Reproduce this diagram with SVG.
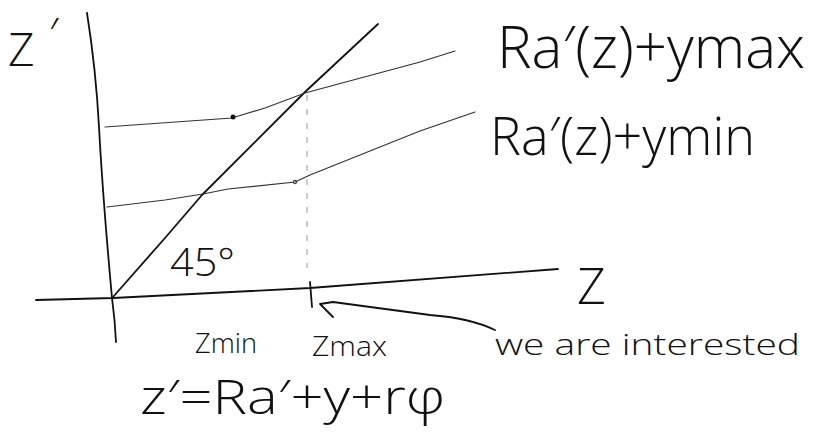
<svg xmlns="http://www.w3.org/2000/svg" width="815" height="432" viewBox="0 0 815 432">
<style>
.t{font-family:"Open Sans","Liberation Sans",sans-serif;font-weight:300;fill:#111}
.ax{fill:none;stroke:#111;stroke-width:1.8;stroke-linecap:round;stroke-linejoin:round}
.cv{fill:none;stroke:#333;stroke-width:1.2;stroke-linecap:round}
.ds{fill:none;stroke:#999;stroke-width:1;stroke-dasharray:6 8}
</style>
<rect width="815" height="432" fill="#fff"/>
<g id="connectors">
<path class="ax" d="M87,13 Q96,70 99,127 Q103,200 112,298 Q115,320 116,342"/>
<path class="ax" d="M36,300 L113,298 L310,288 L558,269"/>
<path class="ax" d="M113,297 L165,238 L202,195 L305,92 L378,24"/>
<path class="cv" d="M105,127 L232,118 L265,108 L305,93 L420,62 L455,51"/>
<circle cx="233" cy="117" r="2.5" fill="#111"/>
<path class="cv" d="M107,207 L165,200 L203,194 L228,189 L295,182 L310,175 L420,131 L475,112"/>
<circle cx="295" cy="182" r="1.8" fill="none" stroke="#333" stroke-width="1"/>
<path class="ds" d="M307,95 L307,268"/>
<path class="ax" d="M310,282 L312,307"/>
<path class="ax" d="M495,330 Q470,318 430,315 L333,302 M320,304 L333,302 M320,304 L333,317"/>
</g>
<g id="zprime"><text class="t" x="8" y="66" font-size="46">Z</text><text class="t" x="49" y="50" font-size="44">′</text></g>
<g id="ymax"><text class="t" x="497" y="68" font-size="58" textLength="308" lengthAdjust="spacingAndGlyphs">Ra′(z)+ymax</text></g>
<g id="ymin"><text class="t" x="490" y="155" font-size="54" textLength="265" lengthAdjust="spacingAndGlyphs">Ra′(z)+ymin</text></g>
<g id="angle"><text class="t" x="170" y="276" font-size="38" textLength="65" lengthAdjust="spacingAndGlyphs">45°</text></g>
<g id="zaxis"><text class="t" x="577" y="304" font-size="50">Z</text></g>
<g id="zmin"><text class="t" x="195" y="353" font-size="27" textLength="62" lengthAdjust="spacingAndGlyphs">Zmin</text></g>
<g id="zmax"><text class="t" x="312" y="356" font-size="28" textLength="75" lengthAdjust="spacingAndGlyphs">Zmax</text></g>
<g id="note"><text class="t" x="495" y="355" font-size="30" textLength="305" lengthAdjust="spacingAndGlyphs">we are interested</text></g>
<g id="formula"><text class="t" x="140" y="414" font-size="48" textLength="305" lengthAdjust="spacingAndGlyphs">z′=Ra′+y+rφ</text></g>
</svg>
